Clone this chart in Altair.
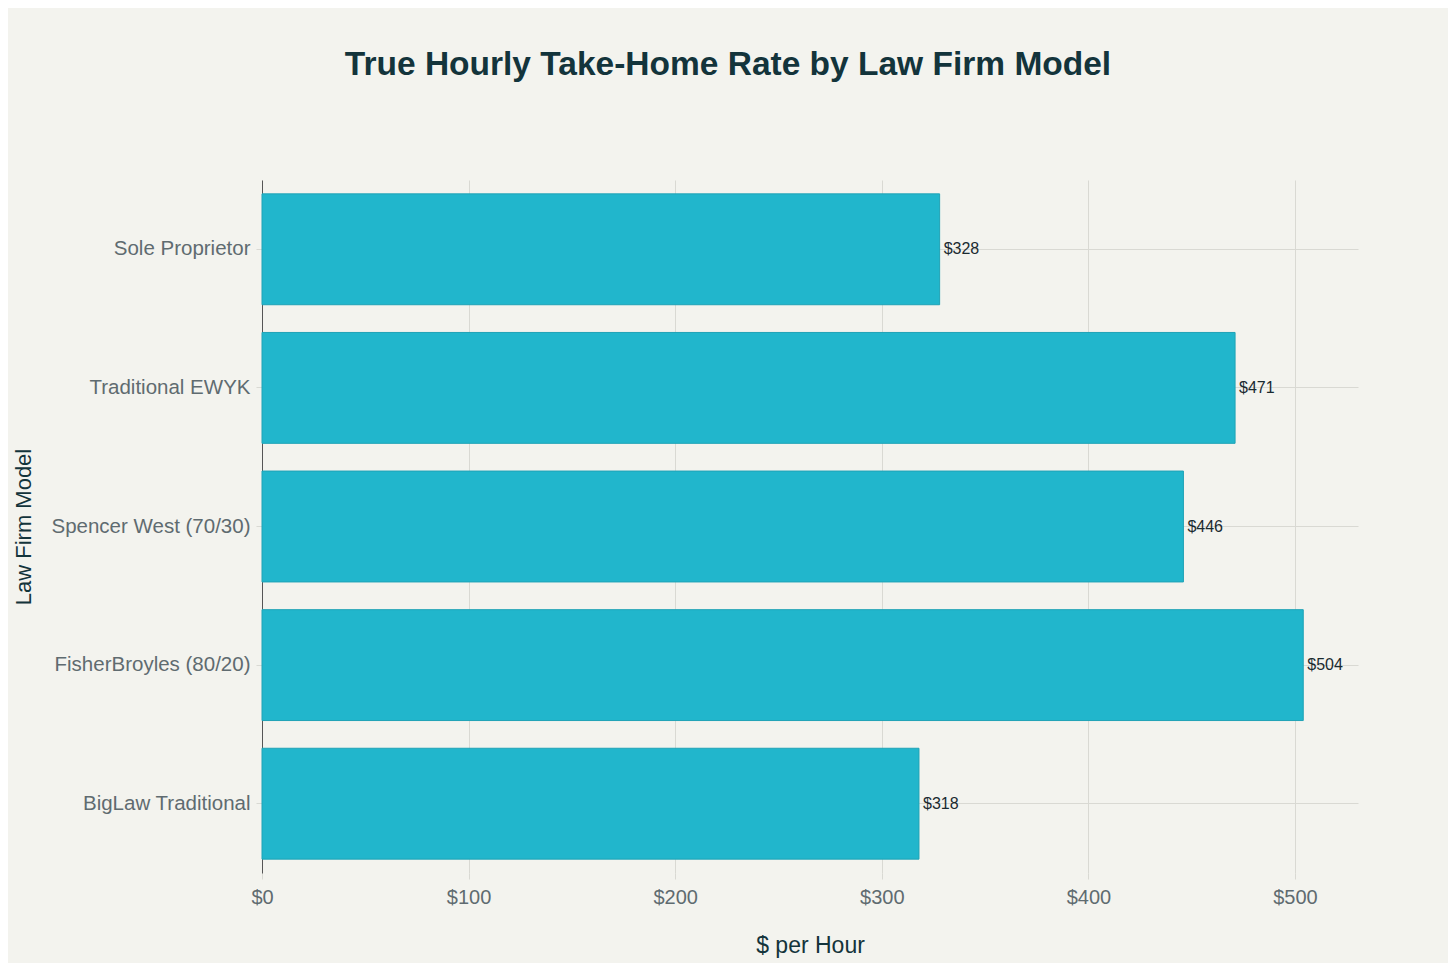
import altair as alt
import pandas as pd

categories = ["Sole Proprietor", "Traditional EWYK", "Spencer West (70/30)",
              "FisherBroyles (80/20)", "BigLaw Traditional"]
values = [328, 471, 446, 504, 318]
labels = ["$" + str(v) for v in values]

df = pd.DataFrame({"model": categories, "rate": values, "label": labels})

FONT = "Liberation Sans"
DARK = "#13343B"

x_enc = alt.X("rate:Q",
              scale=alt.Scale(domain=[0, 530.5], nice=False, zero=True),
              axis=alt.Axis(title="$ per Hour", values=[0, 100, 200, 300, 400, 500],
                            labelExpr="'$' + datum.value", labelFlush=False,
                            grid=True, gridColor="#D9D9D3", domain=False,
                            tickColor="#D9D9D3", tickSize=6,
                            labelFontSize=20, labelColor="#5F6B70", labelPadding=8,
                            titleFontSize=23, titleColor=DARK, titlePadding=27,
                            titleFontWeight="normal", labelFont=FONT, titleFont=FONT))
y_enc = alt.Y("model:N", sort=categories,
              scale=alt.Scale(paddingInner=0.2, paddingOuter=0.1),
              axis=alt.Axis(title="Law Firm Model", grid=True, gridColor="#D9D9D3",
                            domain=True, domainColor="#555555", domainWidth=1,
                            tickColor="#D9D9D3", tickSize=6, labelLimit=400,
                            labelFontSize=20.5, labelColor="#5F6B70", labelPadding=6,
                            titleFontSize=22, titleColor=DARK, titlePadding=27,
                            titleFontWeight="normal", labelFont=FONT, titleFont=FONT))

bars = alt.Chart(df).mark_bar(color="#21B6CC", stroke="#1FA3B6", strokeWidth=1).encode(
    x=x_enc, y=y_enc)

text = alt.Chart(df).mark_text(align="left", baseline="middle", dx=4, fontSize=16,
                               font=FONT, color="#1A2A30").encode(
    x="rate:Q", y=alt.Y("model:N", sort=categories), text="label:N")

chart = alt.layer(bars, text).properties(
    width=1096, height=693,
    title=alt.TitleParams("True Hourly Take-Home Rate by Law Firm Model",
                          fontSize=33.5, font=FONT, fontWeight="bold", color=DARK,
                          anchor="middle", dx=-82, offset=98),
    autosize=alt.AutoSizeParams(type="none"),
    padding={"left": 254, "top": 172, "right": 90, "bottom": 90},
    background="#F3F3EE",
).configure_view(stroke=None)

chart.save("out.html", embed_options={"renderer": "svg", "actions": False})
